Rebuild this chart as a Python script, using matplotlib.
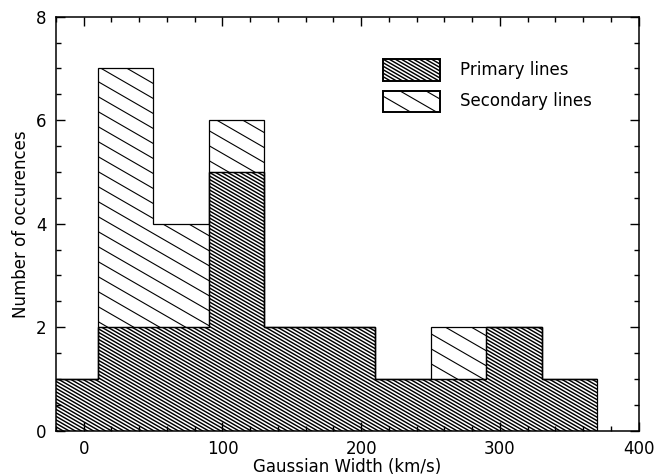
import matplotlib
matplotlib.use('Agg')
import matplotlib.pyplot as plt
import numpy as np
from matplotlib.collections import LineCollection
from matplotlib.patches import Rectangle
from matplotlib.transforms import IdentityTransform
from matplotlib.ticker import MultipleLocator

plt.rcParams['font.family'] = 'DejaVu Sans'
plt.rcParams['font.size'] = 12

# histogram bins (km/s) and counts
bin_edges = [-30, 10, 50, 90, 130, 170, 210, 250, 290, 330, 370]
primary = [1, 2, 2, 5, 2, 2, 1, 1, 2, 1]
secondary = [0, 5, 2, 1, 0, 0, 0, 1, 0, 0]
labels = ['Primary lines', 'Secondary lines']

W, H = 656, 475
fig = plt.figure(figsize=(W / 100, H / 100), dpi=100)
ax = fig.add_axes([56 / W, 1 - 430.7 / H, 582.7 / W, 414 / H])

# hatch spacing (px) and line width for primary / secondary
hatch_sp = [3.5, 15.0]
hatch_lw = [1.05, 0.8]


def hatch(patch, spacing, lw):
    # slanted lines (about 30 deg, going down to the right), clipped to the patch
    s = np.tan(np.radians(30))
    lines = []
    for c in np.arange(0, H + W * s + spacing, spacing):
        lines.append([(0, c), (W, c - W * s)])
    lc = LineCollection(lines, colors='black', linewidths=lw,
                        transform=IdentityTransform(), zorder=2)
    ax.add_collection(lc, autolim=False)
    lc.set_clip_path(patch.get_path(), patch.get_transform())


prim = np.array(primary)
total = prim + np.array(secondary)

ax.set_xlim(-20, 400)
ax.set_ylim(0, 8)
p1 = ax.stairs(prim, bin_edges, baseline=0, fill=True, facecolor='white',
               edgecolor='none', zorder=1)
p2 = ax.stairs(total, bin_edges, baseline=prim, fill=True, facecolor='white',
               edgecolor='none', zorder=1)
hatch(p1, hatch_sp[0], hatch_lw[0])
hatch(p2, hatch_sp[1], hatch_lw[1])
ax.stairs(prim, bin_edges, baseline=0, fill=False, edgecolor='black',
          linewidth=0.9, zorder=3)
ax.stairs(total, bin_edges, baseline=prim, fill=False, edgecolor='black',
          linewidth=0.9, zorder=3)

# legend boxes
for i, lab in enumerate(labels):
    yb = [0.8454, 0.7698][i]
    r = Rectangle((0.5607, yb), 0.0983, 0.0517, transform=ax.transAxes,
                  facecolor='white', edgecolor='none', zorder=1)
    ax.add_patch(r)
    hatch(r, hatch_sp[i], hatch_lw[i])
    ax.add_patch(Rectangle((0.5607, yb), 0.0983, 0.0517, transform=ax.transAxes,
                           facecolor='none', edgecolor='black', linewidth=1.4,
                           zorder=3))
    ax.text(0.693, yb + 0.0259, lab, transform=ax.transAxes, va='center',
            ha='left', fontsize=12)

ax.xaxis.set_major_locator(MultipleLocator(100))
ax.xaxis.set_minor_locator(MultipleLocator(20))
ax.yaxis.set_major_locator(MultipleLocator(2))
ax.yaxis.set_minor_locator(MultipleLocator(0.5))
ax.tick_params(which='both', direction='in', top=True, right=True, width=1)
ax.tick_params(which='major', length=6.5, pad=7, labelsize=12)
ax.tick_params(which='minor', length=3.4)
for sp in ax.spines.values():
    sp.set_linewidth(1.1)
    sp.set_zorder(4)

ax.set_xlabel('Gaussian Width (km/s)', fontsize=12, labelpad=0)
ax.set_ylabel('Number of occurences', fontsize=12, labelpad=4)

fig.savefig('out.png', dpi=100)
